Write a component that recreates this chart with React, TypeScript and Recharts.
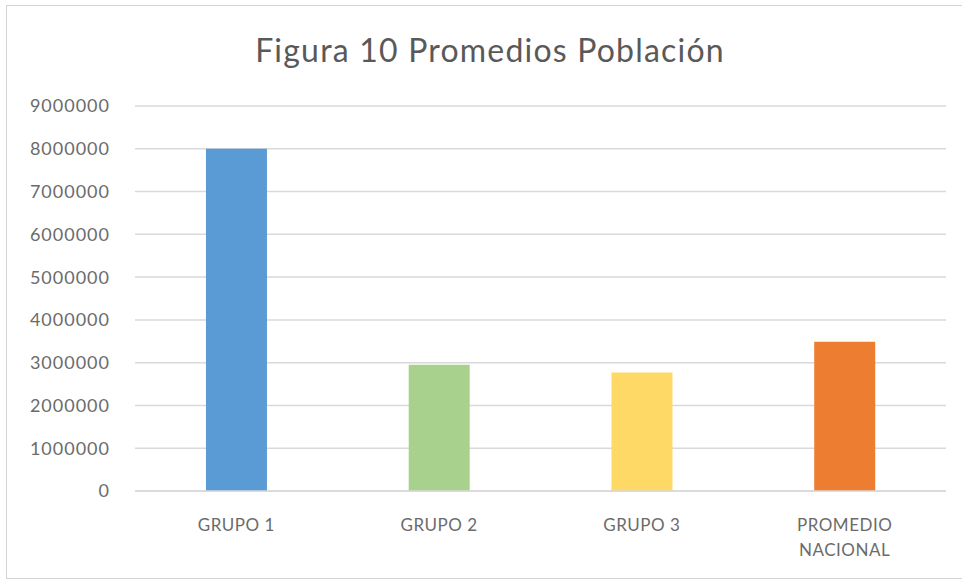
import { BarChart, Bar, XAxis, YAxis, CartesianGrid, Cell, Text } from 'recharts';

const categories = ['GRUPO 1', 'GRUPO 2', 'GRUPO 3', 'PROMEDIO NACIONAL'];
const poblacion = [8000000, 2950000, 2770000, 3490000];
const barColors = ['#5B9BD5', '#A9D18E', '#FFD966', '#ED7D31'];
const yTicks = [0, 1000000, 2000000, 3000000, 4000000, 5000000, 6000000, 7000000, 8000000, 9000000];

const chartData = categories.map((name, i) => ({ name, value: poblacion[i] }));

const font = 'Lato, "Open Sans", sans-serif';

function CategoryTick(props: any) {
  const { x, y, payload } = props;
  return (
    <Text
      x={x}
      y={y}
      width={110}
      textAnchor="middle"
      verticalAnchor="start"
      fontFamily={font}
      fontSize={17}
      fill="#6b6b6b"
      letterSpacing={0.5}
      lineHeight={25}
    >
      {payload.value}
    </Text>
  );
}

export default function App() {
  return (
    <div style={{ position: 'fixed', left: 0, top: 0, width: 962, height: 581, background: '#fff' }}>
      <div
        style={{
          position: 'absolute',
          left: 6,
          top: 5,
          width: 962,
          height: 572,
          border: '1px solid #d4d4d4',
        }}
      />
      <div
        style={{
          position: 'absolute',
          left: 0,
          top: 30,
          width: 980,
          textAlign: 'center',
          fontFamily: font,
          fontSize: 32,
          letterSpacing: 1.2,
          color: '#595959',
        }}
      >
        Figura 10 Promedios Población
      </div>
      <BarChart
        width={962}
        height={581}
        data={chartData}
        margin={{ top: 106, right: 16, bottom: 60, left: 0 }}
        barCategoryGap="35%"
        style={{ position: 'absolute', left: 0, top: 0 }}
      >
        <CartesianGrid vertical={false} stroke="#d9d9d9" strokeWidth={1.5} />
        <XAxis
          dataKey="name"
          axisLine={{ stroke: '#d9d9d9', strokeWidth: 1.5 }}
          tickLine={false}
          interval={0}
          tick={<CategoryTick />}
          tickMargin={22}
        />
        <YAxis
          width={135}
          domain={[0, 9000000]}
          ticks={yTicks}
          axisLine={false}
          tickLine={false}
          tickSize={0}
          tickMargin={25}
          tick={{ fontFamily: font, fontSize: 18, fill: '#6b6b6b', letterSpacing: 1 }}
        />
        <Bar dataKey="value" isAnimationActive={false}>
          {chartData.map((d, i) => (
            <Cell key={d.name} fill={barColors[i]} />
          ))}
        </Bar>
      </BarChart>
    </div>
  );
}
